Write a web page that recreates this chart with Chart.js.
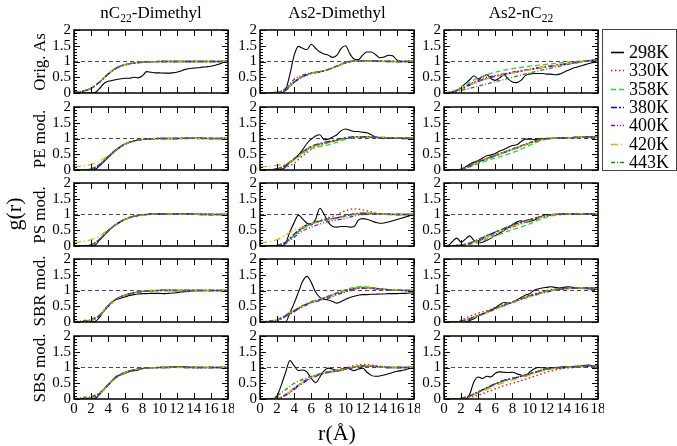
<!DOCTYPE html>
<html>
<head>
<meta charset="utf-8">
<script src="https://cdn.jsdelivr.net/npm/chart.js@4/dist/chart.umd.min.js"></script>
<style>
  body { margin: 0; background: #fff; }
  #wrap { position: relative; width: 677px; height: 446px; overflow: hidden;
          font-family: "Liberation Serif", "DejaVu Serif", serif; color: #000; }
  #wrap canvas { position: absolute; }
  .lbl { position: absolute; white-space: nowrap; line-height: 1; }
  .rot { transform: translate(-50%, -50%) rotate(-90deg); }
  .ctr { transform: translate(-50%, -50%); }
  sub { font-size: 0.68em; vertical-align: -0.4em; line-height: 0; }
  #legend { position: absolute; left: 602px; top: 29px; width: 73px; height: 140px;
            border: 1px solid #444; background: #fff; }
</style>
</head>
<body>
<div id="wrap"></div>
<script>
// r grids (Å)
const rFine = [0,0.5,1,1.5,2,2.5,3,3.5,4,4.5,5,5.5,6,6.5,7,7.5,8,8.5,9,9.5,10,10.5,11,11.5,12,12.5,13,13.5,14,14.5,15,15.5,16,16.5,17,17.5,18];
const rCoarse = [0,1,2,3,4,5,6,7,8,9,10,11,12,13,14,15,16,17,18];

const temps = ['298K', '330K', '358K', '380K', '400K', '420K', '443K'];
const colTitles = ['nC<sub>22</sub>-Dimethyl', 'As2-Dimethyl', 'As2-nC<sub>22</sub>'];
const rowTitles = ['Orig. As', 'PE mod.', 'PS mod.', 'SBR mod.', 'SBS mod.'];
const yTicks = [0, 0.5, 1, 1.5, 2];
const xTicks = [0, 2, 4, 6, 8, 10, 12, 14, 16, 18];

// ---- 298K (on rFine) and 330..443K (on rCoarse) for every panel ----
// Orig. As
const origDim298 = [0,0,0,0,0,0.02,0.15,0.3,0.37,0.4,0.43,0.45,0.47,0.47,0.5,0.48,0.55,0.68,0.66,0.64,0.64,0.63,0.63,0.64,0.66,0.7,0.75,0.78,0.79,0.8,0.82,0.83,0.85,0.88,0.92,0.98,1.03];
const origDimT = [
  [0.02,0.05,0.14,0.34,0.59,0.79,0.9,0.95,0.97,0.99,1,1,1,1,1,1,1,1,1],
  [0.02,0.06,0.16,0.36,0.61,0.8,0.9,0.95,0.98,0.99,1,1,1,1,1,1,1,1,1],
  [0.02,0.05,0.15,0.35,0.6,0.8,0.9,0.95,0.98,0.99,1,1,1,1,1,1,1,1,1.01],
  [0.02,0.05,0.15,0.35,0.6,0.79,0.89,0.95,0.97,0.99,1,1,1,1,1,1,1,1,1],
  [0.03,0.06,0.16,0.36,0.6,0.8,0.9,0.95,0.98,0.99,1,1,1,1,1,1,1,1,1],
  [0.02,0.06,0.15,0.35,0.61,0.8,0.91,0.95,0.98,0.99,1,1,1,1,1,1,1,1,1]
];
const origAs2Dim298 = [0,0,0,0,0,0.01,0.1,0.6,1.2,1.48,1.42,1.38,1.55,1.42,1.3,1.24,1.2,1.13,1.2,1.42,1.5,1.25,1.08,1.06,1.2,1.3,1.3,1.22,1.12,1.14,1.2,1.18,1.05,1.0,1.0,1.01,1.0];
const origAs2DimT = [
  [0,0,0.01,0.1,0.36,0.52,0.62,0.67,0.74,0.85,0.96,1.02,1.03,1.02,1.01,1.01,1.0,1.0,1.0],
  [0,0,0.02,0.1,0.35,0.53,0.63,0.68,0.75,0.86,0.97,1.02,1.03,1.02,1.01,1.0,1.0,1.0,1.0],
  [0,0,0.01,0.09,0.34,0.52,0.62,0.67,0.74,0.85,0.96,1.01,1.02,1.02,1.01,1.0,1.0,1.0,1.0],
  [0,0.01,0.03,0.15,0.44,0.57,0.64,0.68,0.75,0.85,0.96,1.02,1.03,1.02,1.01,1.0,1.0,1.0,1.0],
  [0,0,0.02,0.1,0.35,0.52,0.62,0.67,0.74,0.85,0.96,1.02,1.02,1.01,1.01,1.0,1.0,1.0,1.0],
  [0,0,0.02,0.11,0.36,0.53,0.63,0.68,0.75,0.86,0.97,1.02,1.03,1.02,1.01,1.01,1.0,1.0,1.0]
];
const origAs2Nc298 = [0,0,0.02,0.08,0.18,0.3,0.42,0.55,0.45,0.52,0.58,0.45,0.4,0.48,0.58,0.45,0.35,0.33,0.4,0.55,0.6,0.62,0.62,0.62,0.6,0.6,0.58,0.6,0.66,0.72,0.78,0.82,0.86,0.9,0.94,0.98,1.05];
const origAs2NcT = [
  [0,0.04,0.13,0.26,0.38,0.47,0.54,0.6,0.65,0.7,0.75,0.8,0.84,0.88,0.92,0.96,1.0,1.03,1.06],
  [0,0.05,0.18,0.34,0.48,0.58,0.66,0.72,0.77,0.81,0.85,0.88,0.91,0.94,0.97,0.99,1.02,1.04,1.06],
  [0,0.04,0.12,0.25,0.37,0.46,0.53,0.59,0.64,0.69,0.74,0.79,0.83,0.87,0.91,0.95,0.99,1.03,1.06],
  [0,0.04,0.14,0.28,0.42,0.5,0.56,0.61,0.66,0.71,0.76,0.8,0.84,0.88,0.92,0.96,1.0,1.03,1.06],
  [0,0.03,0.12,0.25,0.36,0.45,0.52,0.58,0.64,0.69,0.74,0.79,0.83,0.87,0.91,0.95,0.99,1.03,1.06],
  [0,0.02,0.08,0.15,0.22,0.29,0.36,0.43,0.5,0.57,0.64,0.7,0.76,0.82,0.88,0.93,0.98,1.02,1.06]
];
// PE mod.
const peDim298 = [0,0,0,0,0,0.02,0.14,0.27,0.4,0.53,0.65,0.75,0.83,0.88,0.92,0.95,0.97,0.98,0.99,1,1,1,1,1,1,1,1.01,1.01,1.01,1.01,1.01,1,1,1,1,1,1];
const peDimT = [
  [0,0,0.02,0.16,0.42,0.66,0.83,0.92,0.97,0.99,1,1,1,1.01,1.01,1.01,1,1,1],
  [0,0,0.03,0.18,0.43,0.67,0.83,0.92,0.97,0.99,1,1,1,1.01,1.01,1,1,1,1],
  [0,0,0.02,0.15,0.41,0.65,0.82,0.92,0.97,0.99,1,1,1,1,1.01,1.01,1,1,1],
  [0,0,0.03,0.17,0.42,0.66,0.83,0.92,0.97,0.99,1,1,1,1.01,1,1,1,1,1],
  [0.1,0.13,0.18,0.28,0.46,0.67,0.83,0.92,0.97,0.99,1,1,1,1,1.01,1,1,1,1],
  [0,0.01,0.04,0.18,0.43,0.66,0.83,0.92,0.97,0.99,1,1,1,1.01,1.01,1,1,1,1]
];
const peAs2Dim298 = [0,0,0,0,0,0.02,0.1,0.25,0.35,0.48,0.65,0.85,0.98,1.08,1.12,0.96,0.98,1.05,1.12,1.25,1.3,1.26,1.22,1.22,1.2,1.18,1.12,1.05,1.02,1.0,1.0,1.0,1.01,1.0,0.99,1.0,1.0];
const peAs2DimT = [
  [0,0,0.02,0.08,0.22,0.45,0.65,0.78,0.88,0.95,1.02,1.05,1.06,1.05,1.04,1.03,1.02,1.02,1.02],
  [0,0,0.03,0.14,0.32,0.52,0.68,0.75,0.8,0.88,0.97,1.03,1.05,1.05,1.04,1.03,1.02,1.02,1.02],
  [0,0,0.04,0.15,0.36,0.58,0.75,0.84,0.9,0.96,1.02,1.05,1.05,1.04,1.03,1.02,1.02,1.02,1.01],
  [0,0,0.03,0.14,0.34,0.56,0.73,0.82,0.88,0.95,1.0,1.03,1.04,1.04,1.03,1.02,1.02,1.01,1.01],
  [0.1,0.12,0.15,0.2,0.35,0.55,0.72,0.8,0.86,0.93,1.0,1.03,1.04,1.03,1.03,1.02,1.02,1.02,1.02],
  [0,0,0.04,0.16,0.36,0.57,0.74,0.82,0.88,0.95,1.01,1.04,1.05,1.04,1.03,1.02,1.02,1.02,1.02]
];
const peAs2Nc298 = [0,0,0,0,0.02,0.1,0.18,0.25,0.3,0.38,0.45,0.48,0.52,0.6,0.65,0.72,0.78,0.8,0.9,0.98,0.98,0.97,0.98,1.0,1.0,1.0,1.01,1.02,1.02,1.03,1.03,1.04,1.04,1.05,1.05,1.05,1.06];
const peAs2NcT = [
  [0,0,0.02,0.14,0.27,0.37,0.46,0.56,0.66,0.76,0.86,0.95,1.0,1.01,1.02,1.03,1.04,1.05,1.06],
  [0,0,0.01,0.1,0.2,0.3,0.38,0.46,0.55,0.66,0.78,0.9,0.98,1.01,1.02,1.03,1.04,1.05,1.06],
  [0,0,0.02,0.12,0.24,0.35,0.45,0.55,0.65,0.75,0.85,0.94,0.99,1.01,1.02,1.03,1.04,1.05,1.06],
  [0,0,0.02,0.13,0.26,0.36,0.46,0.56,0.66,0.76,0.86,0.95,1.0,1.01,1.02,1.03,1.04,1.05,1.06],
  [0,0,0.02,0.12,0.25,0.35,0.45,0.55,0.65,0.75,0.85,0.94,0.99,1.01,1.02,1.03,1.04,1.05,1.06],
  [0,0,0.03,0.14,0.27,0.37,0.47,0.57,0.67,0.77,0.87,0.95,1.0,1.01,1.02,1.03,1.04,1.05,1.06]
];
// PS mod.
const psDim298 = [0,0,0,0,0,0.03,0.2,0.33,0.47,0.6,0.7,0.78,0.85,0.9,0.94,0.97,0.99,1.0,1.01,1.02,1.02,1.02,1.02,1.02,1.02,1.02,1.02,1.02,1.02,1.01,1.01,1.01,1.0,1.0,1.0,1.0,1.0];
const psDimT = [
  [0,0,0.03,0.2,0.48,0.7,0.85,0.94,0.99,1.01,1.02,1.02,1.02,1.02,1.01,1.01,1,1,1],
  [0,0,0.04,0.22,0.49,0.71,0.86,0.95,0.99,1.01,1.02,1.02,1.02,1.01,1.01,1,1,1,1],
  [0,0,0.03,0.2,0.48,0.7,0.85,0.94,0.99,1.01,1.02,1.02,1.02,1.02,1.01,1,1,1,1],
  [0,0,0.03,0.21,0.48,0.7,0.85,0.94,0.99,1.01,1.02,1.02,1.02,1.01,1.01,1,1,1,1],
  [0.1,0.14,0.2,0.32,0.52,0.71,0.85,0.94,0.99,1.01,1.02,1.02,1.01,1.01,1.01,1,1,1,1],
  [0,0.01,0.04,0.22,0.49,0.71,0.86,0.95,0.99,1.01,1.02,1.02,1.02,1.02,1.01,1,1,1,1]
];
const psAs2Dim298 = [0,0,0,0,0,0,0.1,0.45,0.75,0.98,0.85,0.72,0.67,0.85,1.2,1.0,0.75,0.62,0.6,0.62,0.62,0.6,0.62,0.82,0.87,0.85,0.8,0.75,0.72,0.73,0.76,0.8,0.84,0.88,0.92,0.96,1.0];
const psAs2DimT = [
  [0,0,0.02,0.12,0.35,0.55,0.7,0.8,0.9,1.0,1.12,1.18,1.15,1.08,1.02,1.0,1.0,1.0,1.0],
  [0,0,0.02,0.1,0.33,0.55,0.7,0.78,0.84,0.88,0.95,1.0,1.04,1.04,1.02,1.0,1.0,1.0,1.0],
  [0,0,0.02,0.12,0.38,0.6,0.72,0.8,0.85,0.9,0.96,1.02,1.04,1.03,1.02,1.01,1.0,1.0,1.0],
  [0,0,0.01,0.08,0.28,0.48,0.6,0.7,0.78,0.83,0.88,0.95,1.0,1.02,1.02,1.01,1.0,1.0,1.0],
  [0.1,0.13,0.2,0.35,0.5,0.6,0.7,0.78,0.84,0.88,0.95,1.0,1.04,1.03,1.02,1.01,1.0,1.0,1.0],
  [0,0,0.02,0.12,0.36,0.57,0.7,0.79,0.85,0.9,0.96,1.01,1.04,1.03,1.02,1.01,1.0,1.0,1.0]
];
const psAs2Nc298 = [0,0.02,0.15,0.25,0.12,0.22,0.32,0.18,0.1,0.12,0.18,0.25,0.33,0.4,0.5,0.58,0.68,0.76,0.8,0.75,0.78,0.82,0.88,0.95,1.0,1.0,1.01,1.01,1.01,1.02,1.02,1.02,1.02,1.02,1.02,1.02,1.02];
const psAs2NcT = [
  [0,0.01,0.03,0.08,0.18,0.3,0.42,0.53,0.64,0.74,0.83,0.9,0.96,1.0,1.02,1.02,1.03,1.03,1.03],
  [0,0.01,0.02,0.05,0.12,0.22,0.32,0.42,0.52,0.6,0.7,0.82,0.92,0.98,1.01,1.02,1.03,1.03,1.03],
  [0,0.01,0.03,0.09,0.2,0.32,0.44,0.55,0.66,0.76,0.84,0.91,0.97,1.0,1.02,1.02,1.03,1.03,1.03],
  [0,0.01,0.02,0.07,0.16,0.27,0.38,0.49,0.6,0.7,0.8,0.88,0.95,0.99,1.01,1.02,1.03,1.03,1.03],
  [0,0.01,0.03,0.08,0.18,0.29,0.4,0.51,0.62,0.72,0.81,0.89,0.96,1.0,1.02,1.02,1.03,1.03,1.03],
  [0,0.01,0.03,0.1,0.21,0.33,0.45,0.56,0.67,0.76,0.84,0.91,0.97,1.0,1.02,1.02,1.03,1.03,1.03]
];
// SBR mod.
const sbrDim298 = [0,0,0,0,0,0.02,0.15,0.35,0.52,0.65,0.72,0.76,0.8,0.84,0.87,0.89,0.9,0.9,0.91,0.91,0.91,0.9,0.91,0.92,0.93,0.95,0.96,0.98,0.99,1,1,1,1,1,1,1,1];
const sbrDimT = [
  [0,0.01,0.04,0.2,0.5,0.73,0.86,0.93,0.97,0.99,1,1,1,1,1,1,1,1,1],
  [0,0.01,0.05,0.21,0.51,0.74,0.86,0.93,0.97,0.99,1,1,1,1,1,1,1,1,1],
  [0,0.01,0.04,0.2,0.5,0.73,0.85,0.93,0.97,0.99,1,1.01,1,1,1,1,1,1,1],
  [0,0.01,0.05,0.21,0.51,0.74,0.86,0.93,0.98,1.0,1.01,1.01,1,1,1,1,1,1,1],
  [0,0.01,0.05,0.2,0.5,0.73,0.86,0.94,0.98,1.0,1.01,1,1,1,1,1,1,1,1],
  [0.01,0.04,0.09,0.23,0.52,0.74,0.86,0.93,0.97,0.99,1,1,1,1,1,1,1,1,1]
];
const sbrAs2Dim298 = [0,0,0,0,0,0,0,0.3,0.6,0.95,1.3,1.45,1.25,0.95,0.78,0.72,0.7,0.65,0.6,0.65,0.72,0.78,0.82,0.85,0.87,0.87,0.88,0.88,0.89,0.89,0.9,0.9,0.9,0.91,0.91,0.92,0.92];
const sbrAs2DimT = [
  [0,0,0.04,0.17,0.33,0.5,0.63,0.72,0.82,0.92,1.0,1.06,1.08,1.07,1.05,1.03,1.01,1.0,1.0],
  [0,0,0.05,0.2,0.36,0.52,0.64,0.72,0.82,0.93,1.02,1.1,1.12,1.1,1.06,1.03,1.01,1.0,1.0],
  [0,0,0.05,0.2,0.36,0.51,0.62,0.7,0.8,0.9,0.98,1.05,1.08,1.07,1.05,1.03,1.01,1.0,1.0],
  [0,0,0.04,0.18,0.33,0.48,0.6,0.68,0.76,0.86,0.95,1.03,1.07,1.06,1.04,1.02,1.01,1.0,1.0],
  [0,0,0.06,0.22,0.38,0.52,0.63,0.71,0.81,0.91,1.0,1.07,1.09,1.08,1.05,1.03,1.01,1.0,1.0],
  [0.02,0.03,0.08,0.22,0.37,0.52,0.64,0.72,0.82,0.92,1.01,1.07,1.1,1.08,1.05,1.03,1.01,1.0,1.0]
];
const sbrAs2Nc298 = [0,0,0,0,0,0,0.05,0.1,0.2,0.25,0.32,0.38,0.45,0.55,0.62,0.6,0.62,0.7,0.78,0.85,0.9,1.0,1.05,1.08,1.1,1.12,1.1,1.08,1.1,1.12,1.1,1.08,1.07,1.06,1.05,1.04,1.04];
const sbrAs2NcT = [
  [0,0,0.06,0.18,0.28,0.36,0.46,0.56,0.65,0.75,0.85,0.93,1.0,1.05,1.08,1.09,1.09,1.08,1.07],
  [0,0,0.02,0.1,0.2,0.3,0.42,0.53,0.62,0.72,0.82,0.9,0.97,1.03,1.06,1.08,1.08,1.08,1.07],
  [0,0,0.02,0.1,0.21,0.31,0.43,0.53,0.63,0.73,0.82,0.9,0.97,1.02,1.05,1.07,1.08,1.08,1.07],
  [0,0,0.02,0.09,0.19,0.29,0.41,0.51,0.61,0.71,0.8,0.88,0.95,1.01,1.05,1.07,1.08,1.08,1.07],
  [0,0,0.02,0.1,0.2,0.3,0.42,0.52,0.62,0.72,0.81,0.89,0.96,1.02,1.05,1.07,1.08,1.08,1.07],
  [0,0,0.03,0.11,0.21,0.31,0.43,0.54,0.63,0.73,0.83,0.91,0.98,1.03,1.06,1.08,1.08,1.08,1.07]
];
// SBS mod.
const sbsDim298 = [0,0,0,0,0,0.02,0.15,0.3,0.45,0.6,0.73,0.77,0.82,0.87,0.9,0.92,0.96,0.99,1.0,1.0,1.0,1.0,1.01,1.02,1.02,1.02,1.02,1.01,1.01,1,1,1,1,1,1,1,1];
const sbsDimT = [
  [0,0.01,0.03,0.17,0.45,0.7,0.84,0.92,0.97,0.99,1,1,1.01,1.01,1,1,1,1,1],
  [0,0.01,0.04,0.18,0.46,0.71,0.85,0.93,0.97,0.99,1,1,1.01,1.01,1,1,1,1,1],
  [0,0.01,0.03,0.16,0.44,0.7,0.84,0.92,0.97,0.99,1,1,1.01,1,1,1,1,1,1],
  [0,0.01,0.03,0.17,0.45,0.7,0.84,0.92,0.97,0.99,1,1.01,1.01,1,1,1,1,1,1],
  [0,0.01,0.03,0.16,0.44,0.69,0.84,0.92,0.97,0.99,1,1,1,1,1,1,1,1,1],
  [0.01,0.05,0.08,0.2,0.46,0.71,0.85,0.93,0.97,0.99,1,1,1.01,1.01,1,1,1,1,1]
];
const sbsAs2Dim298 = [0,0,0,0,0.1,0.45,0.85,1.22,1.05,0.9,0.92,0.85,0.65,0.52,0.7,0.9,0.98,0.95,0.9,0.95,1.0,0.95,0.9,0.95,0.98,0.85,0.75,0.72,0.73,0.76,0.8,0.84,0.88,0.9,0.93,0.97,1.0];
const sbsAs2DimT = [
  [0,0,0.01,0.12,0.32,0.52,0.68,0.8,0.87,0.92,0.98,1.06,1.1,1.08,1.04,1.01,1.0,1.0,1.0],
  [0,0,0.02,0.15,0.35,0.55,0.7,0.8,0.87,0.9,0.95,1.02,1.05,1.05,1.02,1.0,1.0,1.0,1.0],
  [0,0,0.01,0.13,0.33,0.53,0.68,0.78,0.85,0.89,0.95,1.01,1.05,1.04,1.02,1.0,1.0,1.0,1.0],
  [0,0,0.01,0.12,0.3,0.5,0.66,0.77,0.84,0.88,0.94,1.0,1.04,1.04,1.02,1.0,1.0,1.0,1.0],
  [0,0,0.01,0.13,0.33,0.53,0.69,0.8,0.87,0.91,0.96,1.02,1.06,1.05,1.02,1.0,1.0,1.0,1.0],
  [0,0,0.1,0.3,0.5,0.62,0.72,0.8,0.86,0.9,0.95,1.01,1.05,1.04,1.02,1.0,1.0,1.0,1.0]
];
const sbsAs2Nc298 = [0,0,0,0,0,0,0.15,0.55,0.7,0.65,0.72,0.7,0.82,0.86,0.85,0.84,0.85,0.8,0.76,0.72,0.85,0.95,1.0,0.99,0.98,0.99,1.0,1.01,1.02,1.02,1.03,1.04,1.05,1.07,1.08,1.04,1.0];
const sbsAs2NcT = [
  [0,0,0.01,0.05,0.12,0.22,0.32,0.42,0.5,0.58,0.67,0.76,0.85,0.92,0.97,1.0,1.02,1.04,1.05],
  [0,0,0.02,0.09,0.21,0.34,0.47,0.57,0.65,0.72,0.8,0.88,0.94,0.98,1.0,1.02,1.03,1.04,1.05],
  [0,0,0.02,0.1,0.23,0.36,0.49,0.59,0.66,0.72,0.8,0.88,0.95,0.98,1.0,1.02,1.03,1.04,1.05],
  [0,0,0.02,0.1,0.22,0.35,0.48,0.58,0.65,0.72,0.8,0.88,0.94,0.98,1.0,1.02,1.03,1.04,1.05],
  [0,0,0.01,0.08,0.19,0.3,0.42,0.52,0.6,0.68,0.76,0.85,0.92,0.97,1.0,1.02,1.03,1.04,1.05],
  [0,0,0.02,0.1,0.22,0.35,0.48,0.58,0.65,0.72,0.8,0.88,0.95,0.98,1.0,1.02,1.03,1.04,1.05]
];

// panels in row-major order: [298K curve, other temperatures]
const panelData = [
  [origDim298, origDimT], [origAs2Dim298, origAs2DimT], [origAs2Nc298, origAs2NcT],
  [peDim298, peDimT], [peAs2Dim298, peAs2DimT], [peAs2Nc298, peAs2NcT],
  [psDim298, psDimT], [psAs2Dim298, psAs2DimT], [psAs2Nc298, psAs2NcT],
  [sbrDim298, sbrDimT], [sbrAs2Dim298, sbrAs2DimT], [sbrAs2Nc298, sbrAs2NcT],
  [sbsDim298, sbsDimT], [sbsAs2Dim298, sbsAs2DimT], [sbsAs2Nc298, sbsAs2NcT]
];

// line styles per temperature (xmgrace look)
const colors = ['#000000', '#ff0000', '#22dd22', '#0000ff', '#9400d3', '#ffa500', '#1e8b1e'];
const dashes = [[], [1.5, 2.5], [5, 3], [6, 2, 2, 2], [4, 2, 1, 2, 1, 2], [7, 3, 1, 3], [4, 2, 1, 2]];
const refColor = '#7b2d6e';

// layout
const colLeft = [74, 260, 444];
const rowTop = [30, 107, 183, 259, 336];
const panelW = 154, panelH = 63;
const pad = { left: 48, top: 10, right: 6, bottom: 24 };
const serif = '"Liberation Serif", "Times New Roman", serif';

const wrap = document.getElementById('wrap');

function pts(xs, ys) {
  return ys.map((y, i) => ({ x: xs[i], y: y }));
}

// frame + inside ticks + tick labels, placed through the chart scales
const framePlugin = {
  id: 'frame',
  afterDatasetsDraw(chart) {
    const { ctx, chartArea: a, scales: { x, y } } = chart;
    const lastRow = chart.options.plugins.frame.lastRow;
    ctx.save();
    ctx.strokeStyle = '#000';
    ctx.lineWidth = 1;
    ctx.beginPath();
    for (let k = 0; k <= 20; k++) {
      const py = Math.round(y.getPixelForValue(k / 10)) + 0.5;
      const len = k % 5 === 0 ? 6 : 3;
      ctx.moveTo(a.left, py); ctx.lineTo(a.left + len, py);
      ctx.moveTo(a.right, py); ctx.lineTo(a.right - len, py);
    }
    for (let v = 0; v <= 18; v += 2) {
      const px = Math.round(x.getPixelForValue(v)) + 0.5;
      ctx.moveTo(px, a.bottom); ctx.lineTo(px, a.bottom - 6);
      ctx.moveTo(px, a.top); ctx.lineTo(px, a.top + 6);
    }
    ctx.stroke();
    ctx.lineWidth = 1.5;
    ctx.strokeRect(a.left, a.top, a.width, a.height);

    ctx.fillStyle = '#000';
    ctx.font = '15px ' + serif;
    ctx.textAlign = 'right';
    ctx.textBaseline = 'middle';
    yTicks.forEach(v => ctx.fillText(String(v), a.left - 3, y.getPixelForValue(v)));
    if (lastRow) {
      ctx.textAlign = 'center';
      ctx.textBaseline = 'top';
      xTicks.forEach(v => ctx.fillText(String(v), x.getPixelForValue(v), a.bottom + 3));
    }
    ctx.restore();
  }
};

panelData.forEach(([black, others], idx) => {
  const row = Math.floor(idx / 3), col = idx % 3;
  const cv = document.createElement('canvas');
  cv.width = panelW + pad.left + pad.right;
  cv.height = panelH + pad.top + pad.bottom;
  cv.style.left = (colLeft[col] - pad.left) + 'px';
  cv.style.top = (rowTop[row] - pad.top) + 'px';
  wrap.appendChild(cv);

  const datasets = [{
    label: 'g=1',
    data: [{ x: 0, y: 1 }, { x: 18, y: 1 }],
    borderColor: refColor, borderDash: [4, 3], borderWidth: 1.2, order: 20
  }, {
    label: temps[0], data: pts(rFine, black),
    borderColor: colors[0], borderDash: dashes[0], borderWidth: 1.1, order: 7
  }];
  others.forEach((ys, i) => {
    datasets.push({
      label: temps[i + 1], data: pts(rCoarse, ys),
      borderColor: colors[i + 1], borderDash: dashes[i + 1], borderWidth: 1.3, order: 6 - i
    });
  });

  new Chart(cv, {
    type: 'line',
    data: { datasets },
    options: {
      responsive: false,
      animation: false,
      devicePixelRatio: 1,
      layout: { padding: pad },
      elements: { point: { radius: 0 }, line: { cubicInterpolationMode: 'monotone', fill: false } },
      scales: {
        x: { type: 'linear', min: 0, max: 18, display: false },
        y: { min: 0, max: 2, display: false }
      },
      plugins: {
        legend: { display: false },
        tooltip: { enabled: false },
        frame: { lastRow: row === 4 }
      }
    },
    plugins: [framePlugin]
  });
});

// titles and axis labels
function addLabel(html, x, y, size, cls) {
  const d = document.createElement('div');
  d.className = 'lbl ' + cls;
  d.style.left = x + 'px';
  d.style.top = y + 'px';
  d.style.fontSize = size + 'px';
  d.innerHTML = html;
  wrap.appendChild(d);
}
colTitles.forEach((t, j) => addLabel(t, colLeft[j] + panelW / 2, 12, 17, 'ctr'));
rowTitles.forEach((t, i) => addLabel(t, 39, rowTop[i] + panelH / 2, 17, 'rot'));
addLabel('g(r)', 14, 214, 22, 'rot');
addLabel('r(Å)', colLeft[1] + panelW / 2, 433, 22, 'ctr');

// legend box
const lg = document.createElement('div');
lg.id = 'legend';
wrap.appendChild(lg);
const lc = document.createElement('canvas');
lc.width = 24; lc.height = 140;
lc.style.left = '0px'; lc.style.top = '0px';
lg.appendChild(lc);
const lctx = lc.getContext('2d');
temps.forEach((t, i) => {
  const cy = 22 + i * 18.3;
  lctx.strokeStyle = colors[i];
  lctx.lineWidth = 1.6;
  lctx.setLineDash(dashes[i]);
  lctx.beginPath();
  lctx.moveTo(8, Math.round(cy) + 0.5);
  lctx.lineTo(21, Math.round(cy) + 0.5);
  lctx.stroke();
  const s = document.createElement('div');
  s.className = 'lbl';
  s.style.left = '26px';
  s.style.top = (cy - 9) + 'px';
  s.style.fontSize = '18px';
  s.textContent = t;
  lg.appendChild(s);
});
</script>
</body>
</html>
